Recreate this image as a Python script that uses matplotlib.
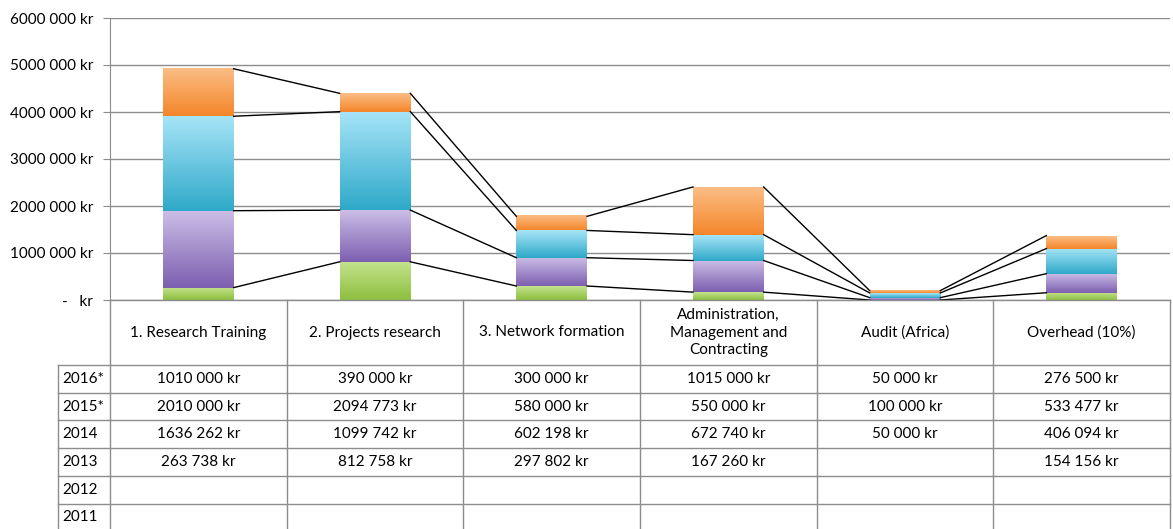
import numpy as np
import matplotlib.pyplot as plt
from matplotlib.colors import LinearSegmentedColormap

plt.rcParams['font.family'] = ['Lato', 'DejaVu Sans']

categories = ['1. Research Training', '2. Projects research', '3. Network formation',
              'Administration,\nManagement and\nContracting', 'Audit (Africa)', 'Overhead (10%)']
years = ['2016*', '2015*', '2014', '2013', '2012', '2011']
v2016 = [1010000, 390000, 300000, 1015000, 50000, 276500]
v2015 = [2010000, 2094773, 580000, 550000, 100000, 533477]
v2014 = [1636262, 1099742, 602198, 672740, 50000, 406094]
v2013 = [263738, 812758, 297802, 167260, None, 154156]
v2012 = [None] * 6
v2011 = [None] * 6
yticks = [0, 1000000, 2000000, 3000000, 4000000, 5000000, 6000000]

table_rows = [v2016, v2015, v2014, v2013, v2012, v2011]
# bottom to top in the stack
stack = [v2013, v2014, v2015, v2016]
grads = [('#c4e38e', '#8dbf3f'),   # green
         ('#cbbde6', '#7d5fb0'),   # purple
         ('#a6e4f7', '#2fa9c9'),   # blue
         ('#fbbd85', '#f4862a')]   # orange


def kr(v):
    if v is None:
        return ''
    if v == 0:
        return '-   kr'
    if v >= 1000:
        return '%d %03d kr' % (v // 1000, v % 1000)
    return '%d kr' % v


W, H = 1173, 529
fig = plt.figure(figsize=(W / 100, H / 100), dpi=100)
L, R, T, B = 110, 1170, 18, 300
ax = fig.add_axes([L / W, 1 - B / H, (R - L) / W, (B - T) / H])

n = len(categories)
x = np.arange(n)
bw = 0.4
grad = np.linspace(0, 1, 64).reshape(-1, 1)
bottoms = np.zeros(n)
levels = []
for vals, (top_c, bot_c) in zip(stack, grads):
    cm = LinearSegmentedColormap.from_list('g', [bot_c, top_c])
    h = np.array([0 if v is None else v for v in vals], dtype=float)
    for i in range(n):
        if h[i] > 0:
            ax.imshow(grad, extent=[x[i] - bw / 2, x[i] + bw / 2, bottoms[i], bottoms[i] + h[i]],
                      cmap=cm, aspect='auto', origin='lower', zorder=3, interpolation='bilinear')
    bottoms = bottoms + h
    levels.append(bottoms.copy())

# series lines
for lev in levels:
    for i in range(n - 1):
        ax.plot([x[i] + bw / 2, x[i + 1] - bw / 2], [lev[i], lev[i + 1]],
                color='black', lw=1, zorder=4)

ax.set_xlim(-0.5, n - 0.5)
ax.set_ylim(0, 6000000)
ax.set_yticks(yticks)
ax.set_yticklabels([kr(v) for v in yticks], fontsize=11)
ax.set_xticks([])
ax.yaxis.grid(True, color='#8c8c8c', lw=1)
ax.set_axisbelow(True)
for s in ['top', 'right', 'bottom']:
    ax.spines[s].set_visible(False)
ax.spines['left'].set_color('#8c8c8c')
ax.tick_params(axis='y', length=5, color='#8c8c8c', pad=7)

# data table below the chart, in pixel coordinates
tab = fig.add_axes([0, 0, 1, 1])
tab.set_xlim(0, W)
tab.set_ylim(H, 0)
tab.axis('off')
colw = (R - L) / n
lab_l = 58
head_b = 365
rowh = 27.7
line_kw = dict(color='#8c8c8c', lw=1)
row_y = [head_b + k * rowh for k in range(len(years) + 1)]

tab.plot([L, R], [B, B], **line_kw)
for k in range(n + 1):
    tab.plot([L + k * colw] * 2, [B, H + 5], **line_kw)
tab.plot([lab_l, lab_l], [head_b, H + 5], **line_kw)
for y in row_y:
    tab.plot([lab_l, R], [y, y], **line_kw)

for k, c in enumerate(categories):
    tab.text(L + (k + 0.5) * colw, (B + head_b) / 2, c, ha='center', va='center',
             fontsize=11, linespacing=1.35)
for r, (yr, vals) in enumerate(zip(years, table_rows)):
    yc = row_y[r] + rowh / 2
    tab.text(lab_l + 4, yc, yr, ha='left', va='center', fontsize=11)
    for k, v in enumerate(vals):
        tab.text(L + (k + 0.5) * colw, yc, kr(v), ha='center', va='center', fontsize=11)

fig.savefig('out.png', dpi=100)
